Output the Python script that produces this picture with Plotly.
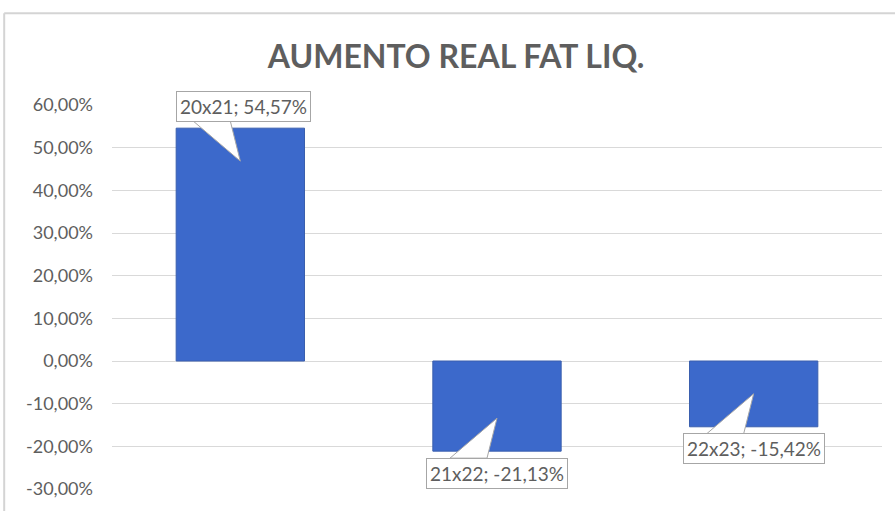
import plotly.graph_objects as go

categories = ["20x21", "21x22", "22x23"]
values = [0.5457, -0.2113, -0.1542]
label_texts = ["20x21; 54,57%", "21x22; -21,13%", "22x23; -15,42%"]
tick_vals = [0.6, 0.5, 0.4, 0.3, 0.2, 0.1, 0.0, -0.1, -0.2, -0.3]
tick_text = ["60,00%", "50,00%", "40,00%", "30,00%", "20,00%", "10,00%",
             "0,00%", "-10,00%", "-20,00%", "-30,00%"]

GRAY = "#5e5e5e"
FONT = "Lato, 'Open Sans', sans-serif"

fig = go.Figure()
fig.add_trace(go.Bar(
    x=categories, y=values, width=0.5,
    marker=dict(color="#3c69cb", line=dict(color="#3a5fae", width=1)),
    hoverinfo="skip",
))

annotations = []
shapes = []
for cat, val, txt in zip(categories, values, label_texts):
    s = 1 if val >= 0 else -1
    annotations.append(dict(
        x=cat, y=val, xref="x", yref="y", text=txt, showarrow=False,
        yshift=22 * s, xshift=3 if s > 0 else 0,
        font=dict(family=FONT, size=19, color=GRAY),
        bgcolor="white", bordercolor="#a6a6a6", borderwidth=1, borderpad=3,
    ))
    # callout wedge, offsets in pixels relative to the bar end
    shapes.append(dict(
        type="path", xref="x", yref="y", xsizemode="pixel", ysizemode="pixel",
        xanchor=cat, yanchor=val,
        path=f"M -47,{7*s} L -10,{7*s} L 0,{-33*s} Z",
        fillcolor="white", line=dict(color="#a6a6a6", width=1), layer="above",
    ))

# chart outer border: only top and left edges are in view
shapes.append(dict(type="line", xref="paper", yref="paper",
                   x0=-0.14, x1=1.2, y0=1.2392, y1=1.2392,
                   line=dict(color="#d4d4d4", width=2), layer="below"))
shapes.append(dict(type="line", xref="paper", yref="paper",
                   x0=-0.14, x1=-0.14, y0=-0.2, y1=1.2392,
                   line=dict(color="#d4d4d4", width=2), layer="below"))

fig.update_layout(
    width=895, height=511,
    margin=dict(l=112, r=13, t=105, b=18),
    paper_bgcolor="white", plot_bgcolor="white",
    showlegend=False, bargap=0.5,
    title=dict(text="<b>AUMENTO REAL FAT LIQ.</b>", x=456/895, xanchor="center",
               xref="container", y=1 - 57/511, yanchor="middle", yref="container",
               font=dict(family=FONT, size=32, color=GRAY)),
    annotations=annotations, shapes=shapes,
    font=dict(family=FONT, color=GRAY),
)
fig.update_xaxes(showticklabels=False, showgrid=False, zeroline=False, showline=False)
fig.update_yaxes(range=[-0.3, 0.6], tickvals=tick_vals, ticktext=tick_text,
                 showgrid=True, gridcolor="#d9d9d9", gridwidth=1,
                 zeroline=True, zerolinecolor="#d9d9d9", zerolinewidth=1,
                 ticks="", ticklabelstandoff=18,
                 tickfont=dict(family=FONT, size=18, color=GRAY))

fig.write_html("out.html", config={"displayModeBar": False},
               post_script="document.body.style.margin='0';document.body.style.overflow='hidden';")
